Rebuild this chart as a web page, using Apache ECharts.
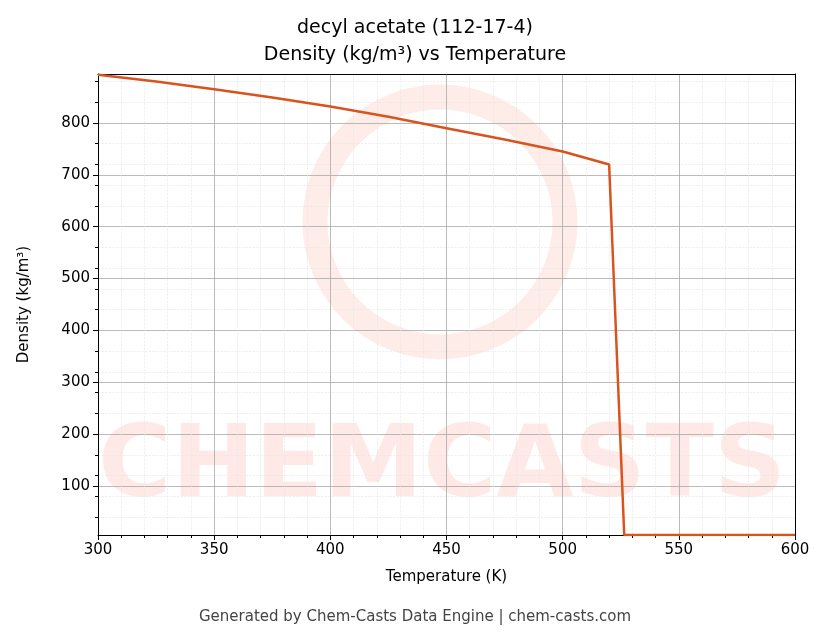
<!DOCTYPE html>
<html><head><meta charset="utf-8">
<script src="https://cdn.jsdelivr.net/npm/echarts@6/dist/echarts.min.js"></script>
<style>html,body{margin:0;padding:0;background:#fff}#c{width:830px;height:644px}</style>
</head><body><div id="c"></div>
<script>
const temps = [300, 325, 350, 375, 400, 425, 450, 475, 500, 520, 526.5, 560, 600];
const density = [893, 880, 865, 849, 832, 812, 790, 768, 745, 720, 5.5, 5.5, 5.5];
const yTicks = [100, 200, 300, 400, 500, 600, 700, 800];

const chart = echarts.init(document.getElementById('c'));
const font = 'DejaVu Sans';
const minorGrid = {show: true, lineStyle: {color: '#e6e6e6', width: 0.6, type: 'dashed'}};
chart.setOption({
  animation: false,
  title: {
    text: 'decyl acetate (112-17-4)\nDensity (kg/m³) vs Temperature',
    left: 'center', top: 10,
    textStyle: {fontFamily: font, fontSize: 19, fontWeight: 'normal', color: '#000', lineHeight: 27}
  },
  graphic: [
    {type: 'text', left: 98, top: 420, silent: true, z: 0,
     style: {text: 'CHEMCASTS', fontFamily: font, fontSize: 100, fontWeight: 'bold', fill: 'rgba(250,120,100,0.16)'}},
    {type: 'circle', shape: {cx: 440, cy: 222, r: 125}, silent: true, z: 0,
     style: {fill: 'none', stroke: 'rgba(250,120,100,0.14)', lineWidth: 25}},
    {type: 'text', left: 'center', top: 610,
     style: {text: 'Generated by Chem-Casts Data Engine | chem-casts.com', fontFamily: font, fontSize: 15, fill: '#444'}}
  ],
  grid: {left: 98, right: 35, top: 74, bottom: 109},
  xAxis: [{
    type: 'value', min: 300, max: 600, interval: 50,
    name: 'Temperature (K)', nameLocation: 'middle', nameGap: 35,
    nameTextStyle: {fontFamily: font, fontSize: 15, color: '#000'},
    axisLine: {onZero: false, lineStyle: {color: '#000'}},
    axisTick: {show: true, length: 5, lineStyle: {color: '#000'}},
    minorTick: {show: true, splitNumber: 5, length: 3, lineStyle: {color: '#000'}},
    axisLabel: {fontFamily: font, fontSize: 15, color: '#000'},
    splitLine: {lineStyle: {color: '#aaa', width: 0.8}},
    minorSplitLine: minorGrid
  }, {
    type: 'value', min: 300, max: 600, position: 'top',
    axisLine: {onZero: false, lineStyle: {color: '#000'}},
    axisTick: {show: false}, axisLabel: {show: false}, splitLine: {show: false}
  }],
  yAxis: [{
    type: 'value', min: 5.5, max: 894.5,
    axisLabel: {fontFamily: font, fontSize: 15, color: '#000', customValues: yTicks},
    axisTick: {show: true, length: 5, customValues: yTicks, lineStyle: {color: '#000'}},
    name: 'Density (kg/m³)', nameLocation: 'middle', nameGap: 66,
    nameTextStyle: {fontFamily: font, fontSize: 15, color: '#000'},
    axisLine: {show: true, lineStyle: {color: '#000'}},
    splitLine: {lineStyle: {color: '#aaa', width: 0.8}},
    minorTick: {show: true, splitNumber: 5, length: 3, lineStyle: {color: '#000'}},
    minorSplitLine: minorGrid
  }, {
    type: 'value', min: 5.5, max: 894.5, position: 'right',
    axisLine: {show: true, lineStyle: {color: '#000'}},
    axisTick: {show: false}, axisLabel: {show: false}, splitLine: {show: false}
  }],
  series: [{
    type: 'line', data: temps.map((t, i) => [t, density[i]]),
    showSymbol: false, lineStyle: {color: '#d9531e', width: 2.5}, z: 5
  }]
});
</script></body></html>
